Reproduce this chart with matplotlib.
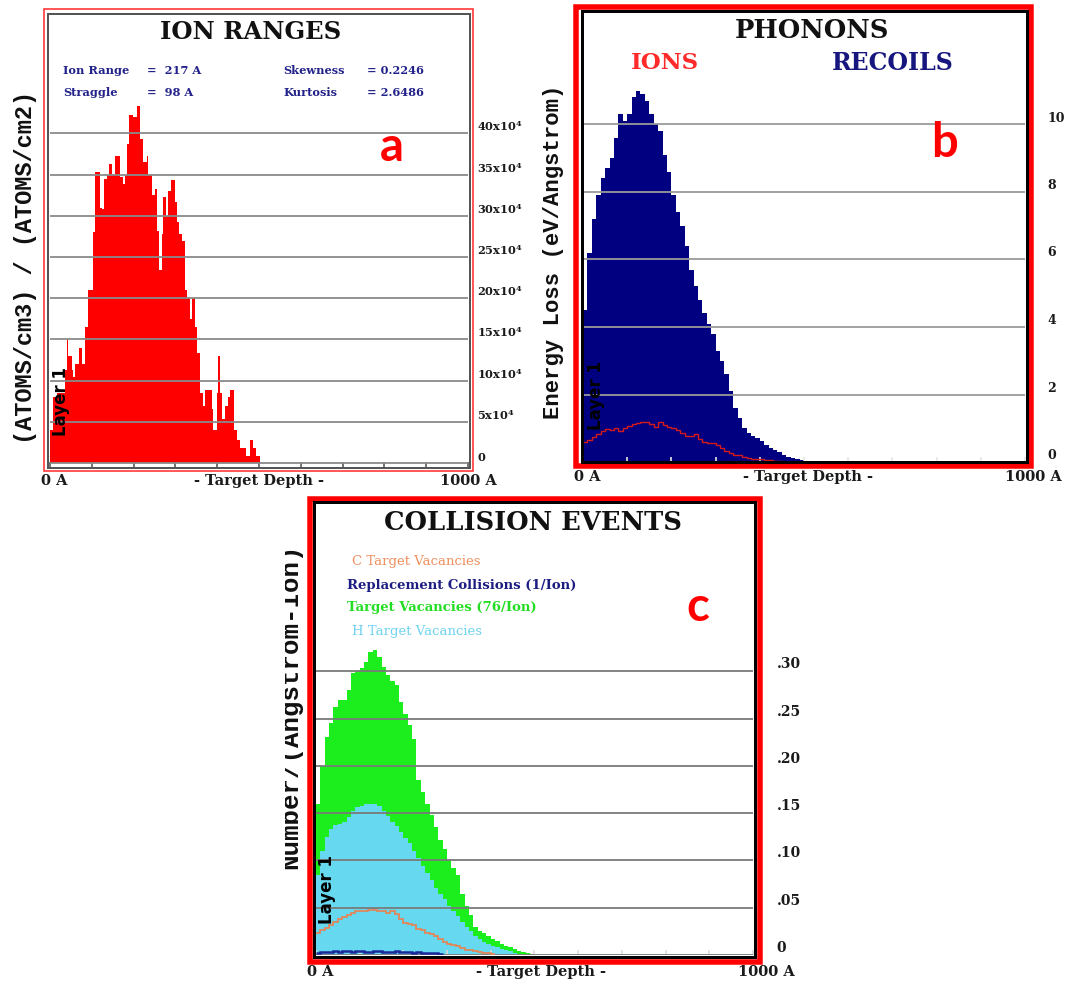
import numpy as np
import matplotlib
matplotlib.use("Agg")
import matplotlib.pyplot as plt
from matplotlib.patches import Rectangle
from matplotlib.transforms import Bbox

# ------------------------------------------------------------------ data
# (a) ION RANGES : histogram, depth bin edges (Angstrom) and heights (x10^4)
ion_edges = [0, 8, 16, 36, 40, 44, 52, 56, 60, 70,
             76, 84, 92, 104, 108, 120, 124, 128, 136, 140,
             148, 155, 167, 174, 179, 185, 190, 199, 207, 215,
             223, 231, 235, 243, 251, 257, 261, 267, 271, 278,
             283, 289, 299, 303, 309, 315, 323, 327, 335, 339,
             347, 351, 359, 367, 371, 387, 391, 399, 403, 407,
             411, 419, 427, 431, 439, 447, 455, 470, 478, 486,
             494, 502]
ion_counts = [4, 8, 8.5, 11.3, 15, 13, 11.3, 10.5, 12, 14,
              12, 16.5, 21, 28, 35.3, 31, 30.8, 34.5, 35, 36.3,
              35, 37.3, 34.7, 33.9, 35, 38.7, 42.3, 42, 43.3, 39.3,
              36.5, 37.3, 35, 32.5, 33.3, 28.2, 23.4, 27.8, 32.3, 30,
              33, 34.4, 31.7, 29.2, 27.8, 27, 21, 20, 17.5, 20,
              16.5, 13.3, 8.5, 6.9, 8.9, 6.5, 4, 8.5, 13, 8.5,
              5.4, 6.9, 8, 8.9, 4, 2.8, 1.8, 0.8, 2.8, 1.8,
              0.8]
ion_stats = [("Ion Range", "=  217 A"), ("Straggle", "=  98 A")]
ion_stats2 = [("Skewness", "= 0.2246"), ("Kurtosis", "= 2.6486")]
a_ticks = [0, 5, 10, 15, 20, 25, 30, 35, 40]
a_ticklabels = ["0"] + [r"$\mathbf{%dx10^{4}}$" % v for v in a_ticks[1:]]

# (b) PHONONS : energy loss per 10 A bin (eV/Angstrom)
bin_width = 10
phonon_recoils = [4.5, 6.2, 7.2, 7.9, 8.4, 8.7, 9.0, 9.6, 10.3, 10.1,
                  10.3, 10.8, 11.0, 10.9, 10.7, 10.3, 10.0, 9.8, 9.1, 8.6,
                  7.9, 7.4, 7.0, 6.4, 5.7, 5.2, 4.8, 4.4, 4.1, 3.8,
                  3.3, 3.0, 2.6, 2.1, 1.6, 1.3, 1.0, 0.85, 0.77, 0.70,
                  0.62, 0.5, 0.42, 0.36, 0.3, 0.22, 0.16, 0.12, 0.08, 0.05,
                  0.02]
phonon_ions = [0.6, 0.65, 0.75, 0.84, 0.92, 0.98, 0.95, 1.0, 0.92, 1.0,
               1.08, 1.12, 1.15, 1.2, 1.18, 1.12, 1.05, 1.18, 1.1, 1.05,
               1.0, 0.95, 0.85, 0.78, 0.78, 0.84, 0.68, 0.58, 0.55, 0.55,
               0.5, 0.42, 0.32, 0.28, 0.22, 0.2, 0.15, 0.12, 0.1, 0.1,
               0.08, 0.06, 0.05, 0.04, 0.02, 0.01]
b_ticks = [0, 2, 4, 6, 8, 10]
b_ticklabels = ["0", "2", "4", "6", "8", "10"]

# (c) COLLISION EVENTS : number/(Angstrom-Ion) per 10 A bin
vac_total = [0.16, 0.20, 0.23, 0.245, 0.262, 0.27, 0.27, 0.28, 0.298, 0.30,
             0.303, 0.31, 0.32, 0.322, 0.315, 0.304, 0.296, 0.29, 0.285, 0.267,
             0.255, 0.243, 0.228, 0.185, 0.172, 0.16, 0.148, 0.135, 0.122, 0.112,
             0.1, 0.092, 0.085, 0.065, 0.052, 0.042, 0.03, 0.025, 0.023, 0.02,
             0.017, 0.015, 0.012, 0.01, 0.008, 0.006, 0.004, 0.003, 0.002, 0.001]
vac_H = [0.085, 0.11, 0.125, 0.133, 0.137, 0.138, 0.141, 0.146, 0.152, 0.156,
         0.158, 0.16, 0.16, 0.16, 0.157, 0.152, 0.147, 0.141, 0.136, 0.13,
         0.124, 0.118, 0.11, 0.103, 0.094, 0.087, 0.079, 0.071, 0.065, 0.059,
         0.052, 0.046, 0.041, 0.035, 0.03, 0.025, 0.02, 0.017, 0.014, 0.012,
         0.01, 0.008, 0.006, 0.005, 0.004, 0.002, 0.001]
vac_C = [0.023, 0.026, 0.029, 0.032, 0.035, 0.038, 0.04, 0.042, 0.044, 0.046,
         0.046, 0.047, 0.048, 0.048, 0.047, 0.046, 0.044, 0.046, 0.043, 0.038,
         0.034, 0.033, 0.032, 0.028, 0.026, 0.023, 0.022, 0.02, 0.017, 0.014,
         0.012, 0.011, 0.009, 0.007, 0.005, 0.005, 0.004, 0.003, 0.002, 0.002,
         0.001]
replacements = [0.002, 0.003, 0.003, 0.003, 0.004, 0.003, 0.004, 0.004, 0.003, 0.004,
                0.004, 0.003, 0.003, 0.004, 0.004, 0.003, 0.003, 0.003, 0.004, 0.003,
                0.003, 0.003, 0.002, 0.003, 0.002, 0.002, 0.002, 0.002, 0.001]
c_ticks = [0, 0.05, 0.10, 0.15, 0.20, 0.25, 0.30]
c_ticklabels = ["0", ".05", ".10", ".15", ".20", ".25", ".30"]
c_legend = [("C Target Vacancies", "#ef9060", "normal", 352, 561),
            ("Replacement Collisions (1/Ion)", "#1c1c82", "bold", 347, 585),
            ("Target Vacancies (76/Ion)", "#22dd22", "bold", 347, 608),
            ("H Target Vacancies", "#6fd3f0", "normal", 352, 631)]
depth_ticks = [0, 100, 200, 300, 400, 500, 600, 700, 800, 900, 1000]

# ------------------------------------------------------------------ figure
W, H = 1069, 985
plt.rcParams["mathtext.fontset"] = "dejavuserif"
fig = plt.figure(figsize=(W / 100, H / 100), dpi=100)
fig.patch.set_facecolor("white")

SERIF = "DejaVu Serif"
MONO = "Liberation Mono"


def fx(x):
    return x / W


def fy(y):
    return 1 - y / H


def add_axes(x0, y0, x1, y1):
    return fig.add_axes([x0 / W, 1 - y1 / H, (x1 - x0) / W, (y1 - y0) / H])


def rect(x0, y0, x1, y1, color, lw_px, z=5):
    fig.add_artist(Rectangle((x0 / W, 1 - y1 / H), (x1 - x0) / W, (y1 - y0) / H,
                             transform=fig.transFigure, fill=False,
                             edgecolor=color, linewidth=lw_px * 0.72, zorder=z))


def style_axes(ax, ticks, labels, pad_pt, tick_color, size, grid_color):
    for s in ax.spines.values():
        s.set_visible(False)
    ax.set_facecolor("white")
    ax.set_xticks(depth_ticks)
    ax.tick_params(axis="x", direction="in", length=3.5, width=1.2,
                   color=tick_color, labelbottom=False)
    ax.yaxis.tick_right()
    ax.set_yticks(ticks)
    ax.set_yticklabels(labels)
    ax.tick_params(axis="y", length=0, pad=pad_pt, labelsize=size)
    for lab in ax.get_yticklabels():
        lab.set_fontfamily(SERIF)
        lab.set_fontweight("bold")
        lab.set_va("bottom")
        lab.set_color("#1a1a1a")
    ax.grid(axis="y", color=grid_color, linewidth=1.3)
    ax.set_axisbelow(False)


def xlabels(y, x0, scale):
    for txt, d in (("0 A", 0), ("- Target Depth -", 500), ("1000 A", 1000)):
        fig.text(fx(x0 + d * scale + (4 if d == 0 else 0)), fy(y), txt,
                 ha="center", va="center", family=SERIF, weight="bold",
                 size=10.5, color="#1a1a1a")


# ======================= panel a =======================
axa = add_axes(50, 14, 468, 467)
axa.stairs(ion_counts, ion_edges, fill=True, color="#ff0000", zorder=1)
axa.set_xlim(0, 1000)
axa.set_ylim(-0.48, 54.5)
style_axes(axa, a_ticks, a_ticklabels, 6.5, "#5a5a5a", 8.2, "#8a8a8a")
rect(44, 9.5, 473, 471, "#ff3030", 1.6)
rect(48, 13.5, 469.5, 468, "#555555", 2.0)
fig.text(fx(251), fy(32), "ION RANGES", ha="center", va="center",
         family=SERIF, weight="bold", size=17.5, color="#111111")
for i, (k, v) in enumerate(ion_stats):
    fig.text(fx(63), fy(70 + 23 * i), k, ha="left", va="center", family=SERIF,
             weight="bold", size=8.2, color="#22228a")
    fig.text(fx(147), fy(70 + 23 * i), v, ha="left", va="center", family=SERIF,
             weight="bold", size=8.2, color="#22228a")
for i, (k, v) in enumerate(ion_stats2):
    fig.text(fx(283), fy(70 + 23 * i), k, ha="left", va="center", family=SERIF,
             weight="bold", size=8.2, color="#22228a")
    fig.text(fx(367), fy(70 + 23 * i), v, ha="left", va="center", family=SERIF,
             weight="bold", size=8.2, color="#22228a")
fig.text(fx(26), fy(267), "(ATOMS/cm3) / (ATOMS/cm2)", rotation=90,
         ha="center", va="center", family=MONO, weight="bold", size=17,
         color="#111111")
fig.text(fx(61), fy(402), "Layer 1", rotation=90, ha="center", va="center",
         family="DejaVu Sans", weight="bold", size=12, color="black", zorder=6)
fig.text(fx(392), fy(147), "a", ha="center", va="center", family="Lato",
         weight="bold", size=34, color="#ff0000")
xlabels(481, 50, 0.418)

# ======================= panel b =======================
edges_b = np.arange(len(phonon_recoils) + 1) * bin_width
edges_bi = np.arange(len(phonon_ions) + 1) * bin_width
axb = add_axes(583, 11, 1025, 462)
axb.stairs(phonon_recoils, edges_b, fill=True, color="#000080", zorder=1)
axb.stairs(phonon_ions, edges_bi, baseline=None, color="#d41a1a",
           linewidth=1.0, zorder=3)
axb.set_xlim(0, (1025 - 583) / 0.45)
axb.set_ylim(0, (462 - 11) / 33.75)
style_axes(axb, b_ticks, b_ticklabels, 16, "#e6e6e6", 9, "#9a9a9a")
rect(576, 7, 1030.5, 466, "#ff0000", 5.5)
rect(581.5, 10.5, 1026.5, 461.5, "#000000", 3)
fig.text(fx(812), fy(30), "PHONONS", ha="center", va="center",
         family=SERIF, weight="bold", size=18.5, color="#111111")
fig.text(fx(665), fy(63), "IONS", ha="center", va="center",
         family=SERIF, weight="bold", size=16.5, color="#ff2a2a")
fig.text(fx(893), fy(63), "RECOILS", ha="center", va="center",
         family=SERIF, weight="bold", size=17, color="#16167e")
fig.text(fx(553), fy(252), "Energy Loss (eV/Angstrom)", rotation=90,
         ha="center", va="center", family=MONO, weight="bold", size=16,
         color="#111111")
fig.text(fx(596), fy(395), "Layer 1", rotation=90, ha="center", va="center",
         family="DejaVu Sans", weight="bold", size=12, color="black", zorder=6)
fig.text(fx(945), fy(143), "b", ha="center", va="center", family="Lato",
         weight="bold", size=34, color="#ff0000")
xlabels(477, 583, 0.45)

# ======================= panel c =======================
edges_t = np.arange(len(vac_total) + 1) * bin_width
edges_h = np.arange(len(vac_H) + 1) * bin_width
edges_c = np.arange(len(vac_C) + 1) * bin_width
edges_r = np.arange(len(replacements) + 1) * bin_width
axc = add_axes(315, 503, 753, 955)
axc.stairs(vac_total, edges_t, fill=True, color="#1ced1c", zorder=1)
axc.stairs(vac_H, edges_h, fill=True, color="#66d8f0", zorder=1.2)
axc.stairs(vac_C, edges_c, baseline=None, color="#e0885a", linewidth=1.3, zorder=3)
axc.stairs(replacements, edges_r, baseline=None, color="#1a2a9a", linewidth=1.8, zorder=3)
axc.set_xlim(-1 / 0.45, (753 - 316) / 0.45)
axc.set_ylim(0, (955 - 503) / 946)
style_axes(axc, c_ticks, c_ticklabels, 17, "#dadada", 10, "#7a7a7a")
rect(309.5, 499, 760, 961.5, "#ff0000", 5.5)
rect(313.5, 501.5, 754.5, 956.5, "#000000", 3)
fig.text(fx(533), fy(522), "COLLISION EVENTS", ha="center", va="center",
         family=SERIF, weight="bold", size=18.5, color="#111111")
for txt, col, wt, x, y in c_legend:
    fig.text(fx(x), fy(y), txt, ha="left", va="center", family=SERIF,
             weight=wt, size=9.5, color=col)
yl = fig.text(fx(297), fy(706), "Number/(Angstrom-Ion)", rotation=90,
              rotation_mode="anchor", ha="center", va="baseline", family=MONO,
              weight="bold", size=18.5, color="#111111")
yl.set_clip_box(Bbox.from_extents(285, 0, W, H))
yl.set_clip_on(True)
fig.text(fx(327), fy(889), "Layer 1", rotation=90, ha="center", va="center",
         family="DejaVu Sans", weight="bold", size=12, color="black", zorder=6)
fig.text(fx(698), fy(607), "c", ha="center", va="center", family="Lato",
         weight="bold", size=34, color="#ff0000")
xlabels(972, 316, 0.45)

fig.savefig("out.png", dpi=100, facecolor="white")
